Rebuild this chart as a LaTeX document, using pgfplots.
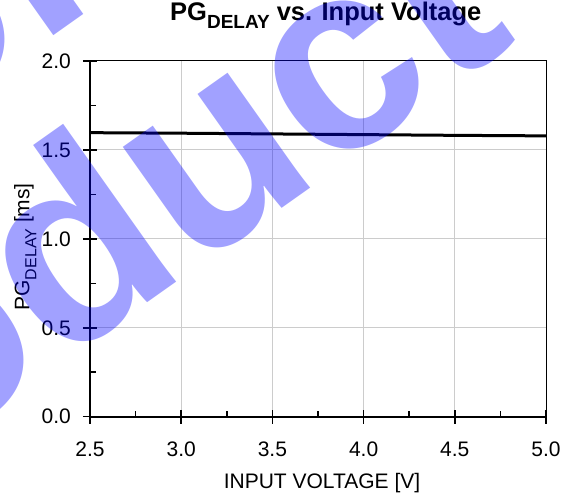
\documentclass[border=0pt]{standalone}
\usepackage{pgfplots}
\pgfplotsset{compat=1.18}
\usepackage{fontspec}
\setmainfont{Liberation Sans}
\begin{document}
\begin{tikzpicture}
\useasboundingbox (-90pt,-78.3pt) rectangle (478pt,416.7pt);
\begin{axis}[
  at={(0pt,0pt)}, anchor=south west,
  scale only axis, width=456pt, height=355.7pt,
  xmin=2.5, xmax=5, ymin=0, ymax=2,
  xtick={2.5,3.0,3.5,4.0,4.5,5.0}, ytick={0,0.5,1.0,1.5,2.0},
  minor x tick num=1, minor y tick num=1,
  xtick pos=left, ytick pos=left,
  tick align=inside,
  major tick length=14pt, minor tick length=6pt,
  every major x tick/.append style={yshift=-7pt},
  every major y tick/.append style={xshift=-7pt},
  every tick/.append style={black, line width=1.5pt},
  grid=major,
  major grid style={black!20, line width=1pt},
  axis line style={line width=1pt},
  /pgf/number format/assume math mode=true,
  /pgf/number format/.cd, fixed, fixed zerofill, precision=1, /pgfplots/.cd,
  tick label style={font=\fontsize{21}{24}\selectfont},
  xticklabel style={anchor=north, inner sep=0pt, yshift=-25pt},
  yticklabel style={anchor=east, inner sep=0pt, xshift=-19pt},
  xlabel={INPUT VOLTAGE [V]},
  xlabel style={at={([xshift=4pt,yshift=-72pt]rel axis cs:0.5,0)}, anchor=base, inner sep=0pt, font=\fontsize{21}{24}\selectfont},
  ylabel={PG\raisebox{-7pt}{\fontsize{16}{16}\selectfont DELAY} [ms]},
  ylabel style={at={([xshift=-60.5pt,yshift=-8pt]rel axis cs:0,0.5)}, anchor=base, inner sep=0pt, font=\fontsize{21}{24}\selectfont},
  title={PG\raisebox{-8pt}{\fontsize{19}{19}\selectfont DELAY} vs. Input Voltage},
  title style={at={([xshift=80pt,yshift=34.3pt]rel axis cs:0,1)}, anchor=base west, inner sep=0pt, font=\bfseries\fontsize{25.5}{28}\selectfont},
]
\addplot[black, line width=3pt] coordinates {
  (2.5,1.597) (3.0,1.594) (3.5,1.590) (4.0,1.586) (4.5,1.582) (5.0,1.579)
};
\end{axis}
\draw[line width=2pt] (0pt,355.7pt) -- (0pt,0pt) -- (456pt,0pt);
\node[rotate=35.3, anchor=base west, inner sep=0pt, text=blue, text opacity=0.37,
  font=\bfseries\fontsize{268}{268}\selectfont] at (-611pt,-25.3pt) {Obsolete};
\node[rotate=35.3, anchor=base west, inner sep=0pt, text=blue, text opacity=0.37,
  font=\bfseries\fontsize{268}{268}\selectfont] at (-397.3pt,-208.3pt) {Product};
\end{tikzpicture}
\end{document}
